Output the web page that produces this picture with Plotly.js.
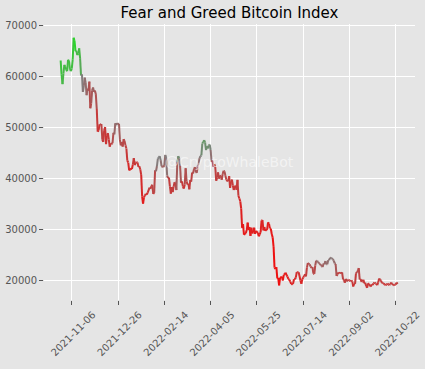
<!DOCTYPE html>
<html>
<head>
<meta charset="utf-8">
<script src="https://cdn.plot.ly/plotly-3.0.1.min.js"></script>
<style>
  html, body { margin: 0; padding: 0; background: #e5e5e5; }
  #chart { width: 425px; height: 369px; }
</style>
</head>
<body>
<div id="chart"></div>
<script>
// Daily BTC close (USD), from 2021-10-25 onwards
const startDate = '2021-10-25';
const price = [
  // Oct 2021 (25-31)
  63100, 60300, 58480, 60600, 62250, 61850, 61300,
  // Nov 2021
  61000, 63250, 62950, 61450, 61000, 61500, 63300, 67550, 66970, 64950,
  64950, 64150, 64470, 65470, 63560, 60160, 60370, 56940, 58120, 59750,
  58700, 56290, 57570, 57200, 58960, 53730, 54720, 57270, 57800, 56950,
  // Dec 2021
  57200, 56500, 53600, 49150, 49400, 50580, 50470, 50640, 47560, 47140,
  49390, 50050, 46700, 48340, 48860, 47650, 46200, 46850, 46700, 46880,
  48940, 48630, 50800, 50430, 50800, 50640, 50700, 47540, 46460, 47120, 46220,
  // Jan 2022
  47690, 47340, 46460, 45830, 43450, 43100, 41560, 41730, 41910, 41820,
  42740, 43950, 42590, 43100, 43180, 43110, 42250, 42380, 41740, 40680,
  36460, 35030, 36280, 36650, 36950, 36810, 37160, 37710, 38170, 37920, 38480,
  // Feb 2022
  38740, 36950, 37150, 41570, 41380, 42410, 43840, 44120, 44340, 43570,
  42410, 42240, 42200, 42590, 44580, 43960, 40540, 40030, 40120, 38430,
  37020, 38290, 37300, 38360, 39230, 39120, 37710, 43190,
  // Mar 2022
  44350, 43920, 42450, 39140, 39400, 38420, 37990, 38740, 41980, 39440,
  38790, 38900, 37850, 39670, 39340, 41140, 40950, 41800, 42190, 41250,
  41080, 42360, 42890, 43960, 44350, 44500, 46820, 47130, 47470, 47060, 45540,
  // Apr 2022
  46280, 45870, 46450, 46620, 45560, 43210, 43450, 42290, 42780, 42210,
  39520, 40130, 41170, 39940, 40550, 40400, 39720, 40830, 41500, 41360,
  40480, 39710, 39470, 39450, 40430, 38120, 39240, 39740, 38600, 37710,
  // May 2022
  38470, 38530, 37750, 39700, 36580, 36040, 35500, 34060, 30300, 31020,
  28940, 29050, 29280, 29870, 31300, 29860, 30430, 28720, 30310, 29200,
  29430, 30320, 29100, 29650, 29560, 29270, 28630, 29030, 29470, 31730, 31790,
  // Jun 2022
  29800, 30450, 29700, 29860, 29910, 31370, 31130, 30210, 30110, 29080,
  28420, 26560, 22490, 22210, 22580, 20380, 20470, 19020, 20550, 20570,
  20720, 19990, 21090, 21230, 21500, 21030, 20730, 20280, 20100, 19780,
  // Jul 2022
  19300, 19250, 19300, 20230, 20190, 20550, 21620, 21590, 21590, 20850,
  19970, 19330, 20210, 20570, 20830, 21190, 20780, 22490, 23390, 23230,
  23160, 22680, 22460, 22580, 21310, 21250, 22930, 23840, 23800, 23640, 23300,
  // Aug 2022
  23270, 22990, 22820, 22620, 23310, 23180, 23810, 23160, 23150, 23950,
  23950, 24400, 24440, 24310, 24130, 23860, 23340, 23210, 20880, 21170,
  21530, 21400, 21530, 21370, 21570, 20260, 20040, 19550, 20290, 19810, 20050,
  // Sep 2022
  20130, 19950, 19830, 20000, 19800, 18790, 19290, 19320, 21360, 21650,
  21830, 22400, 20170, 20240, 19700, 19800, 20110, 19420, 19540, 18880,
  18550, 19410, 19300, 18930, 18800, 19220, 19080, 19410, 19590, 19420,
  // Oct 2022 (1-24)
  19310, 19060, 19630, 20340, 20160, 19960, 19530, 19420, 19450, 19140,
  19050, 19160, 19380, 19190, 19070, 19270, 19550, 19330, 19130, 19040,
  19170, 19200, 19570, 19330
];

// Fear & Greed index (0 = extreme fear, 100 = extreme greed), same days
const fearGreed = [
  76, 76, 73, 70, 72, 74, 74,
  74, 72, 75, 74, 72, 74, 75, 79, 84, 82,
  71, 73, 75, 72, 71, 62, 50, 48, 45, 43,
  45, 40, 38, 35, 33, 27, 32, 37, 40, 38,
  35, 33, 30, 16, 18, 22, 25, 28, 25, 24,
  22, 23, 20, 21, 22, 22, 21, 24, 27, 28,
  33, 38, 42, 45, 43, 41, 40, 33, 30, 32, 29,
  27, 29, 28, 23, 21, 15, 18, 10, 12, 10,
  22, 24, 22, 21, 21, 22, 23, 20, 22, 18,
  14, 10, 12, 18, 20, 18, 19, 22, 24, 26, 24,
  27, 25, 20, 36, 40, 45, 52, 48, 51, 48,
  40, 38, 36, 38, 48, 50, 40, 28, 23, 25,
  22, 24, 23, 25, 26, 25, 21, 50,
  58, 52, 40, 28, 24, 22, 20, 22, 35, 28,
  24, 23, 22, 27, 25, 28, 30, 32, 35, 33,
  32, 38, 40, 45, 50, 52, 58, 60, 60, 58, 55,
  55, 56, 57, 55, 50, 38, 32, 30, 30, 28,
  22, 25, 28, 26, 28, 30, 27, 30, 32, 33,
  30, 26, 24, 25, 25, 20, 22, 23, 22, 20,
  22, 21, 22, 27, 20, 17, 15, 14, 11, 10,
  10, 8, 11, 11, 12, 10, 13, 11, 13, 11,
  12, 13, 11, 12, 13, 12, 11, 11, 12, 13, 16,
  13, 14, 12, 11, 11, 13, 12, 12, 11, 10,
  8, 7, 6, 7, 8, 7, 6, 6, 7, 8,
  8, 9, 9, 10, 11, 12, 12, 12, 12, 11,
  14, 13, 14, 15, 15, 17, 18, 20, 19, 18,
  15, 14, 16, 18, 20, 22, 24, 25, 30, 33,
  34, 32, 31, 30, 28, 26, 30, 39, 44, 42, 40,
  39, 37, 36, 37, 38, 40, 41, 42, 42, 44,
  46, 45, 47, 47, 45, 43, 41, 38, 30, 27,
  25, 24, 23, 25, 27, 26, 25, 24, 26, 27, 25,
  24, 23, 22, 23, 22, 20, 21, 21, 26, 28,
  28, 30, 25, 24, 22, 23, 24, 22, 23, 22,
  20, 22, 21, 22, 21, 21, 21, 22, 21, 22,
  22, 21, 22, 24, 25, 24, 23, 22, 22, 21,
  20, 21, 21, 23, 22, 22, 24, 24, 23, 22,
  21, 22, 25, 26
];

const tickDates = ['2021-11-06', '2021-12-26', '2022-02-14', '2022-04-05',
                   '2022-05-25', '2022-07-14', '2022-09-02', '2022-10-22'];
const yTicks = [20000, 30000, 40000, 50000, 60000, 70000];

// consecutive calendar days starting at startDate
function dayString(i) {
  const d = new Date(startDate + 'T00:00:00Z');
  d.setUTCDate(d.getUTCDate() + i);
  return d.toISOString().slice(0, 10);
}
const dates = price.map((_, i) => dayString(i));

// red (fear) -> gray (neutral) -> green (greed)
function sentimentColor(v) {
  const red = [255, 0, 0], gray = [128, 128, 128], green = [0, 255, 0];
  let a, b, t;
  if (v < 50) { a = red; b = gray; t = v / 50; }
  else { a = gray; b = green; t = (v - 50) / 50; }
  const c = a.map((x, k) => Math.round(x + (b[k] - x) * t));
  return 'rgb(' + c.join(',') + ')';
}

const traces = [];
for (let i = 0; i < price.length - 1; i++) {
  traces.push({
    type: 'scatter',
    mode: 'lines',
    x: [dates[i], dates[i + 1]],
    y: [price[i], price[i + 1]],
    line: { color: sentimentColor((fearGreed[i] + fearGreed[i + 1]) / 2), width: 2 },
    hoverinfo: 'skip',
    showlegend: false
  });
}

const tickFont = { family: 'DejaVu Sans, sans-serif', size: 10, color: '#555555' };

const layout = {
  width: 425,
  height: 369,
  margin: { l: 44, r: 10, t: 24, b: 69 },
  paper_bgcolor: '#e5e5e5',
  plot_bgcolor: '#e5e5e5',
  showlegend: false,
  title: {
    text: 'Fear and Greed Bitcoin Index',
    font: { family: 'DejaVu Sans, sans-serif', size: 15, color: '#000000' },
    x: 0.5, xref: 'paper', xanchor: 'center',
    y: 13, yref: 'container', yanchor: 'middle'
  },
  xaxis: {
    type: 'date',
    range: ['2021-10-07', '2022-11-11T18:00'],
    tickvals: tickDates,
    ticktext: tickDates,
    tickangle: -45,
    ticklabelshift: 21,
    tickfont: tickFont,
    ticks: 'outside',
    ticklen: 4,
    tickcolor: '#555555',
    showgrid: true,
    gridcolor: '#ffffff',
    gridwidth: 1,
    zeroline: false,
    showline: false
  },
  yaxis: {
    range: [16150, 70250],
    tickvals: yTicks,
    ticktext: yTicks.map(String),
    tickfont: tickFont,
    ticks: 'outside',
    ticklen: 4,
    tickcolor: '#555555',
    showgrid: true,
    gridcolor: '#ffffff',
    gridwidth: 1,
    zeroline: false,
    showline: false
  },
  annotations: [{
    text: '@CryptoWhaleBot',
    xref: 'paper', yref: 'paper',
    x: 0.5, y: 0.5,
    xanchor: 'center', yanchor: 'middle',
    showarrow: false,
    font: { family: 'DejaVu Sans, sans-serif', size: 14, color: 'rgba(255,255,255,0.55)' }
  }]
};

layout.title.y = 1 - 13 / 369;

Plotly.newPlot('chart', traces, layout, { staticPlot: true, displayModeBar: false });
</script>
</body>
</html>
